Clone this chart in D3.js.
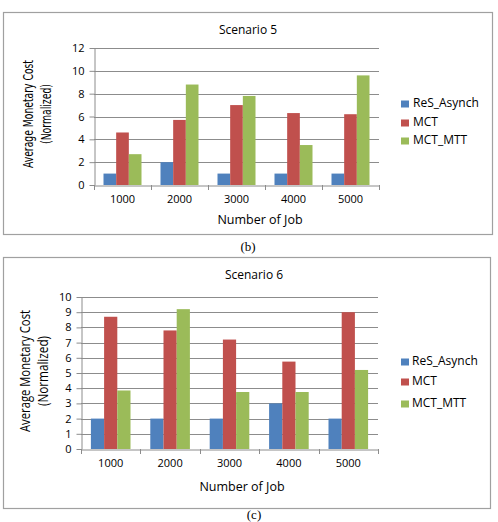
<!DOCTYPE html>
<html>
<head>
<meta charset="utf-8">
<script src="https://cdn.jsdelivr.net/npm/d3@7"></script>
<style>
  body { margin: 0; background: #fff; }
  svg text { font-family: "Open Sans", "DejaVu Sans", sans-serif; fill: #000; }
</style>
</head>
<body>
<svg id="chart" width="498" height="522"></svg>
<script>
// data
const jobs = ['1000', '2000', '3000', '4000', '5000'];
const seriesNames = ['ReS_Asynch', 'MCT', 'MCT_MTT'];
const seriesColors = ['#4F81BD', '#C0504D', '#9BBB59'];

const s5Res = [1, 2, 1, 1, 1];
const s5Mct = [4.6, 5.7, 7.0, 6.3, 6.2];
const s5MctMtt = [2.7, 8.8, 7.8, 3.5, 9.6];
const s5Ticks = [0, 2, 4, 6, 8, 10, 12];

const s6Res = [2, 2, 2, 3, 2];
const s6Mct = [8.7, 7.8, 7.2, 5.75, 9.0];
const s6MctMtt = [3.85, 9.2, 3.75, 3.75, 5.2];
const s6Ticks = [0, 1, 2, 3, 4, 5, 6, 7, 8, 9, 10];

const svg = d3.select('#chart');

function drawPanel(cfg) {
    const g = svg.append('g');

    // outer frame
    g.append('rect')
        .attr('x', cfg.frame[0] + 0.5).attr('y', cfg.frame[1] + 0.5)
        .attr('width', cfg.frame[2] - cfg.frame[0]).attr('height', cfg.frame[3] - cfg.frame[1])
        .attr('fill', '#fff').attr('stroke', '#a0a0a0').attr('stroke-width', 1.2);

    const x = d3.scaleBand().domain(jobs).range([cfg.left, cfg.right]);
    const y = d3.scaleLinear().domain([0, d3.max(cfg.ticks)]).range([cfg.bottom, cfg.top]);
    const inner = d3.scaleBand().domain(seriesNames)
        .range([0, x.bandwidth()]).paddingInner(0).paddingOuter(0.75);

    // gridlines
    g.append('g').selectAll('line')
        .data(cfg.ticks.filter(t => t > 0))
        .enter().append('line')
        .attr('x1', cfg.left).attr('x2', cfg.right)
        .attr('y1', d => Math.round(y(d)) + 0.5).attr('y2', d => Math.round(y(d)) + 0.5)
        .attr('stroke', '#8c8c8c').attr('stroke-width', 1);

    // bars
    const rows = jobs.map((j, i) => ({ job: j, vals: cfg.series.map(s => s[i]) }));
    g.append('g').selectAll('g')
        .data(rows)
        .enter().append('g')
        .attr('transform', d => `translate(${x(d.job)},0)`)
        .selectAll('rect')
        .data(d => d.vals.map((v, k) => ({ name: seriesNames[k], v, k })))
        .enter().append('rect')
        .attr('x', d => inner(d.name))
        .attr('y', d => y(d.v))
        .attr('width', inner.bandwidth())
        .attr('height', d => y(0) - y(d.v))
        .attr('fill', d => seriesColors[d.k]);

    // y axis
    const yAxis = g.append('g')
        .attr('transform', `translate(${cfg.left + 0.5},0)`)
        .call(d3.axisLeft(y).tickValues(cfg.ticks).tickSize(5).tickSizeOuter(0).tickPadding(5));
    yAxis.select('.domain').attr('stroke', '#8c8c8c');
    yAxis.selectAll('.tick line').attr('stroke', '#8c8c8c');
    yAxis.selectAll('text').style('font-size', '11px');

    // x axis
    const xAxis = g.append('g')
        .attr('transform', `translate(0,${Math.round(cfg.bottom) + 0.5})`)
        .call(d3.axisBottom(x).tickSize(0).tickPadding(10));
    xAxis.select('.domain').attr('stroke', '#8c8c8c');
    xAxis.selectAll('text').style('font-size', '11px');
    // category separators
    g.append('g').selectAll('line')
        .data(d3.range(jobs.length + 1))
        .enter().append('line')
        .attr('x1', i => Math.round(cfg.left + i * x.step()) + 0.5)
        .attr('x2', i => Math.round(cfg.left + i * x.step()) + 0.5)
        .attr('y1', cfg.bottom).attr('y2', cfg.bottom + 5)
        .attr('stroke', '#8c8c8c');

    // title
    g.append('text')
        .attr('x', cfg.titleX).attr('y', cfg.titleY)
        .attr('text-anchor', 'middle').attr('dominant-baseline', 'middle')
        .style('font-size', '12px')
        .text(cfg.title);

    // x axis title
    g.append('text')
        .attr('x', cfg.xTitleX).attr('y', cfg.xTitleY)
        .attr('text-anchor', 'middle').attr('dominant-baseline', 'middle')
        .style('font-size', '12.5px')
        .text('Number of Job');

    // y axis title (two lines)
    const yt = g.append('text')
        .attr('transform', `translate(${cfg.yTitleX},${cfg.yTitleY}) rotate(-90)`)
        .attr('text-anchor', 'middle')
        .style('font-family', cfg.yTitleFont)
        .style('font-size', cfg.yTitleSize);
    yt.append('tspan').attr('x', 0).attr('dy', 0)
        .attr('textLength', cfg.yTitleLen[0]).attr('lengthAdjust', 'spacingAndGlyphs')
        .text('Average Monetary Cost');
    yt.append('tspan').attr('x', 0).attr('dy', cfg.yTitleGap)
        .attr('textLength', cfg.yTitleLen[1]).attr('lengthAdjust', 'spacingAndGlyphs')
        .text('(Normalized)');

    // legend
    const lg = g.append('g').selectAll('g')
        .data(seriesNames)
        .enter().append('g')
        .attr('transform', (d, i) => `translate(${cfg.legendX},${cfg.legendY[i]})`);
    lg.append('rect')
        .attr('x', 0).attr('y', -3.5).attr('width', 8).attr('height', 7)
        .attr('fill', (d, i) => seriesColors[i]);
    lg.append('text')
        .attr('x', cfg.legendTextDx).attr('y', 0)
        .attr('dominant-baseline', 'middle')
        .style('font-size', '12px')
        .text(d => d);

    // caption
    g.append('text')
        .attr('x', cfg.captionX).attr('y', cfg.captionY)
        .attr('text-anchor', 'middle')
        .style('font-family', '"Liberation Serif", "DejaVu Serif", serif')
        .style('font-size', '13px')
        .text(cfg.caption);
}

drawPanel({
    frame: [3, 12, 492, 234],
    left: 94, right: 379, top: 48, bottom: 185,
    ticks: s5Ticks,
    series: [s5Res, s5Mct, s5MctMtt],
    title: 'Scenario 5', titleX: 248, titleY: 31,
    xTitleX: 260, xTitleY: 221,
    yTitleX: 33, yTitleY: 114, yTitleGap: 18, yTitleLen: [108, 60],
    yTitleFont: '"DejaVu Sans Condensed", sans-serif', yTitleSize: '14px',
    legendX: 401, legendY: [104, 123, 141], legendTextDx: 12,
    caption: '(b)', captionX: 248, captionY: 251
});

drawPanel({
    frame: [3, 257, 490, 508],
    left: 81, right: 378, top: 297, bottom: 449,
    ticks: s6Ticks,
    series: [s6Res, s6Mct, s6MctMtt],
    title: 'Scenario 6', titleX: 254, titleY: 276,
    xTitleX: 242, xTitleY: 488,
    yTitleX: 30, yTitleY: 371, yTitleGap: 17.5, yTitleLen: [122, 70],
    yTitleFont: '"Open Sans", "DejaVu Sans", sans-serif', yTitleSize: '14px',
    legendX: 401, legendY: [362, 382, 404], legendTextDx: 11,
    caption: '(c)', captionX: 254, captionY: 519
});
</script>
</body>
</html>
